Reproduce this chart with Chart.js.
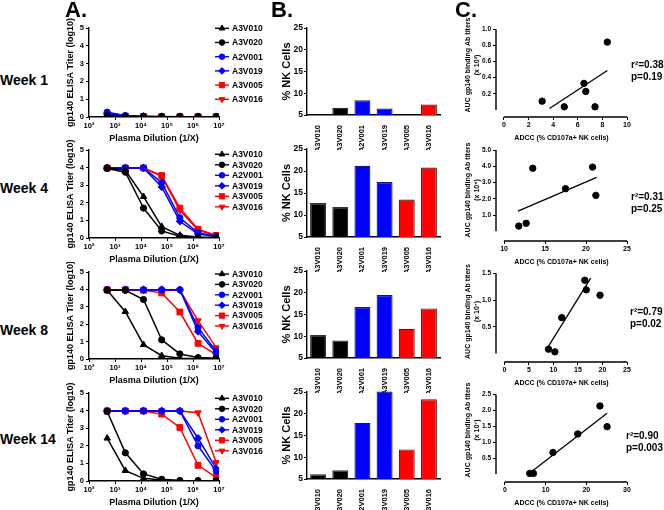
<!DOCTYPE html>
<html>
<head>
<meta charset="utf-8">
<script src="https://cdn.jsdelivr.net/npm/chart.js@4/dist/chart.umd.min.js"></script>
<style>
  body { margin: 0; width: 664px; height: 510px; position: relative; overflow: hidden; background: #fff;
         font-family: "Liberation Sans", Arial, Helvetica, sans-serif; font-weight: bold; color: #000; }
  canvas { position: absolute; }
  .t { position: absolute; white-space: nowrap; line-height: 1; z-index: 2; }
  .r { font-size: 10px; line-height: 11.5px; }
</style>
</head>
<body>
<div class="t" style="left:65px;top:-1px;font-size:22px">A.</div>
<div class="t" style="left:271px;top:-1px;font-size:22px">B.</div>
<div class="t" style="left:455px;top:-1px;font-size:22px">C.</div>

<div class="t" style="left:0;top:73px;font-size:14px">Week 1</div>
<div class="t" style="left:0;top:181px;font-size:14px">Week 4</div>
<div class="t" style="left:0;top:323px;font-size:14px">Week 8</div>
<div class="t" style="left:0;top:432px;font-size:14px">Week 14</div>

<div class="t r" style="left:631px;top:59px">r²=0.38<br>p=0.19</div>
<div class="t r" style="left:631px;top:191px">r²=0.31<br>p=0.25</div>
<div class="t r" style="left:630px;top:306px">r²=0.79<br>p=0.02</div>
<div class="t r" style="left:626px;top:430px">r²=0.90<br>p=0.003</div>

<script>
const animals = ["A3V010", "A3V020", "A2V001", "A3V019", "A3V005", "A3V016"];
const dilutions = [500, 2500, 12500, 62500, 312500, 1562500, 7812500];
const dilutionTicks = [1e2, 1e3, 1e4, 1e5, 1e6, 1e7];
const titerTicks = [0, 1, 2, 3, 4, 5];
const nkTicks = [5, 10, 15, 20, 25];

// gp140 ELISA titer (log10), one row per animal, same order as animals
const titersWeek1 = [
    [0.10, 0.04, 0.03, 0.02, 0.02, 0.02, 0.02],
    [0.06, 0.03, 0.02, 0.02, 0.02, 0.02, 0.02],
    [0.27, 0.08, 0.04, 0.03, 0.02, 0.02, 0.02],
    [0.20, 0.06, 0.03, 0.02, 0.02, 0.02, 0.02],
    [0.08, 0.04, 0.03, 0.02, 0.02, 0.02, 0.02],
    [0.07, 0.04, 0.02, 0.02, 0.02, 0.02, 0.02]
];
const titersWeek4 = [
    [3.98, 3.85, 2.35, 0.65, 0.15, 0.05, 0.04],
    [3.95, 3.74, 1.70, 0.40, 0.10, 0.03, 0.02],
    [3.98, 3.98, 3.98, 3.15, 1.15, 0.30, 0.10],
    [3.98, 3.98, 3.98, 2.90, 0.95, 0.22, 0.08],
    [3.98, 3.98, 3.98, 3.55, 1.70, 0.50, 0.15],
    [3.98, 3.98, 3.98, 3.50, 1.58, 0.45, 0.12]
];
const titersWeek8 = [
    [3.95, 2.72, 0.82, 0.19, 0.05, 0.03, 0.02],
    [3.95, 3.95, 3.42, 1.10, 0.29, 0.08, 0.05],
    [3.98, 3.98, 3.98, 3.98, 3.98, 1.80, 0.45],
    [3.98, 3.98, 3.98, 3.98, 3.98, 1.58, 0.35],
    [3.98, 3.98, 3.95, 3.80, 2.70, 0.90, 0.25],
    [3.98, 3.98, 3.98, 3.95, 3.95, 2.20, 0.65]
];
const titersWeek14 = [
    [2.43, 0.59, 0.15, 0.05, 0.02, 0.02, 0.02],
    [3.95, 1.60, 0.40, 0.10, 0.03, 0.02, 0.02],
    [3.98, 3.98, 3.98, 3.98, 3.98, 2.00, 0.55],
    [3.98, 3.98, 3.98, 3.98, 3.98, 2.43, 0.70],
    [3.98, 3.98, 3.98, 3.80, 3.04, 0.89, 0.20],
    [3.98, 3.98, 3.98, 3.98, 3.98, 3.88, 1.05]
];

// % NK cells (ADCC, % CD107a+ NK cells), per animal
const nkWeek1 = [3.1, 6.65, 8.4, 6.5, 4.9, 7.4];
const nkWeek4 = [12.7, 11.8, 21.2, 17.5, 13.5, 20.8];
const nkWeek8 = [10.3, 9.0, 16.7, 19.5, 11.7, 16.4];
const nkWeek14 = [6.1, 7.0, 17.9, 25.1, 11.8, 23.35];

// AUC gp140 binding Ab titers, per animal
const aucWeek1 = [0.11, 0.23, 0.84, 0.33, 0.04, 0.04];
const aucWeek4 = [0.49, 0.32, 2.21, 2.62, 3.88, 3.95];
const aucWeek8 = [0.03, 0.08, 1.19, 1.09, 0.67, 1.37];
const aucWeek14 = [0.02, 0.02, 1.26, 1.49, 0.68, 2.14];

// regression line ends as drawn
const fitXWeek1 = [3.7, 8.4],   fitYWeek1 = [0.02, 0.49];
const fitXWeek4 = [11.7, 21.3], fitYWeek4 = [1.24, 3.32];
const fitXWeek8 = [8.7, 17.6],  fitYWeek8 = [0.09, 1.41];
const fitXWeek14 = [6.1, 25.1], fitYWeek14 = [0.03, 1.91];

const adccTicksWeek1 = [0, 2, 4, 6, 8, 10];
const adccTicksWeek4 = [10, 15, 20, 25];
const adccTicksWeek8 = [0, 5, 10, 15, 20, 25];
const adccTicksWeek14 = [0, 10, 20, 30];
const aucTicksWeek1 = [0.2, 0.4, 0.6, 0.8, 1.0];
const aucTicksWeek4 = [1, 2, 3, 4, 5];
const aucTicksWeek8 = [0.5, 1.0, 1.5];
const aucTicksWeek14 = [0.5, 1.0, 1.5, 2.0, 2.5];

const FONT = '"Liberation Sans", Arial, Helvetica, sans-serif';
const lineColors = ["#000000", "#000000", "#0000ff", "#0000ff", "#ff0000", "#ff0000"];
const pointStyles = ["triangle", "circle", "circle", "rectRot", "rect", "triangle"];
const pointRotations = [0, 0, 0, 0, 0, 180];
const pointSizes = [3.7, 3.1, 3.1, 3.7, 4.1, 3.7];
const barBorders = ["#333333", "#333333", "#1a1a55", "#1a1a55", "#551a1a", "#551a1a"];
const supers = { 2: "²", 3: "³", 4: "⁴", 5: "⁵", 6: "⁶", 7: "⁷" };

Chart.defaults.font.family = FONT;
Chart.defaults.font.weight = "bold";
Chart.defaults.color = "#000";
Chart.defaults.animation = false;
Chart.defaults.responsive = false;
Chart.defaults.devicePixelRatio = 1;
Chart.defaults.plugins.legend.display = false;
Chart.defaults.plugins.tooltip.enabled = false;

function makeCanvas(left, top, width, height) {
    const c = document.createElement("canvas");
    c.width = width;
    c.height = height;
    c.style.left = left + "px";
    c.style.top = top + "px";
    document.body.appendChild(c);
    return c;
}

// legend drawn beside the plot: line + marker + name
const sideLegend = {
    id: "sideLegend",
    afterDraw(chart, args, opts) {
        if (!opts.show) return;
        const ctx = chart.ctx;
        const x = chart.chartArea.right + 3;
        ctx.save();
        ctx.font = "bold 8.5px " + FONT;
        ctx.textBaseline = "middle";
        chart.data.datasets.forEach((ds, i) => {
            const y = opts.first + i * opts.gap - opts.canvasTop;
            ctx.strokeStyle = ds.borderColor;
            ctx.fillStyle = ds.backgroundColor;
            ctx.lineWidth = 1.4;
            ctx.beginPath();
            ctx.moveTo(x - 7, y);
            ctx.lineTo(x + 7, y);
            ctx.stroke();
            ctx.lineWidth = 1;
            Chart.helpers.drawPoint(ctx, {
                pointStyle: ds.pointStyle, radius: ds.pointRadius * 0.9,
                rotation: ds.pointRotation, borderWidth: 1
            }, x, y);
            ctx.fillStyle = "#000";
            ctx.fillText(ds.label, x + 10, y + 0.5);
        });
        ctx.restore();
    }
};

// Prism-like detached axes for the correlation plots
const prismAxes = {
    id: "prismAxes",
    beforeDatasetsDraw(chart, args, opts) {
        if (!opts.show) return;
        const { ctx, chartArea, scales } = chart;
        ctx.save();
        ctx.strokeStyle = "#000";
        ctx.lineWidth = 1.4;
        ctx.beginPath();
        ctx.moveTo(chartArea.left, scales.y.getPixelForValue(opts.yTo));
        ctx.lineTo(chartArea.left, scales.y.getPixelForValue(opts.yFrom));
        ctx.moveTo(scales.x.getPixelForValue(opts.xFrom), chartArea.bottom);
        ctx.lineTo(scales.x.getPixelForValue(opts.xTo), chartArea.bottom);
        ctx.stroke();
        ctx.restore();
    }
};

Chart.register(sideLegend, prismAxes);

function tickGrid(len) {
    return { drawOnChartArea: false, drawTicks: true, tickLength: len, color: "#000", lineWidth: 1 };
}

function renderTiterChart(titers, plotTop, plotBottom, legendFirst, legendGap) {
    const left = 60, width = 215, axisLeft = 89, axisRight = 219;
    const top = plotTop - 10;
    const height = plotBottom + 27 - top;
    const canvas = makeCanvas(left, top, width, height);

    new Chart(canvas, {
        type: "line",
        data: {
            labels: dilutions,
            datasets: titers.map((row, i) => ({
                label: animals[i],
                data: row.map((v, j) => ({ x: dilutions[j], y: v })),
                borderColor: lineColors[i],
                backgroundColor: lineColors[i],
                borderWidth: 1.5,
                pointStyle: pointStyles[i],
                pointRotation: pointRotations[i],
                pointRadius: pointSizes[i],
                pointBorderWidth: 1
            }))
        },
        options: {
            layout: { padding: { left: 0, top: 10, right: width - (axisRight - left), bottom: 0 } },
            scales: {
                x: {
                    type: "logarithmic", min: 100, max: 1e7,
                    afterBuildTicks: s => { s.ticks = dilutionTicks.map(v => ({ value: v })); },
                    afterFit: s => { s.height = 27; s.paddingLeft = 0; s.paddingRight = 0; },
                    ticks: {
                        autoSkip: false, maxRotation: 0, padding: 1,
                        font: { size: 7.5 },
                        callback: v => "10" + supers[Math.round(Math.log10(v))]
                    },
                    grid: tickGrid(3),
                    border: { color: "#000", width: 1.4 },
                    title: { display: true, text: "Plasma Dilution (1/X)", font: { size: 9 }, padding: 0 }
                },
                y: {
                    min: 0, max: 5,
                    afterBuildTicks: s => { s.ticks = titerTicks.map(v => ({ value: v })); },
                    afterFit: s => { s.width = axisLeft - left; s.paddingTop = 0; s.paddingBottom = 0; },
                    ticks: { padding: 2, font: { size: 7.5 } },
                    grid: tickGrid(3),
                    border: { color: "#000", width: 1.4 },
                    title: { display: true, text: "gp140 ELISA Titer (log10)", font: { size: 9 }, padding: { top: 5.6, bottom: 0 } }
                }
            },
            plugins: { sideLegend: { show: true, first: legendFirst, gap: legendGap, canvasTop: top } }
        }
    });
}

function renderNKChart(values, plotTop, plotBottom) {
    const left = 276, width = 172, axisLeft = 307, axisRight = 440;
    const top = plotTop - 10;
    const height = plotBottom + 45 - top;
    const canvas = makeCanvas(left, top, width, height);

    new Chart(canvas, {
        type: "bar",
        data: {
            labels: animals,
            datasets: [{
                data: values,
                backgroundColor: lineColors,
                borderColor: barBorders,
                borderWidth: 1.2,
                barPercentage: 0.72,
                categoryPercentage: 1,
                clip: { left: 5, top: 5, right: 5, bottom: 0 }
            }]
        },
        options: {
            layout: { padding: { left: 0, top: 10, right: width - (axisRight - left), bottom: 10 } },
            scales: {
                x: {
                    afterFit: s => { s.height = 35; s.paddingLeft = 0; s.paddingRight = 0; },
                    ticks: { autoSkip: false, minRotation: 90, maxRotation: 90, padding: 2, font: { size: 7.5 } },
                    grid: { display: false },
                    border: { color: "#000", width: 1.4 }
                },
                y: {
                    min: 5, max: 25,
                    afterBuildTicks: s => { s.ticks = nkTicks.map(v => ({ value: v })); },
                    afterFit: s => { s.width = axisLeft - left; s.paddingTop = 0; s.paddingBottom = 0; },
                    ticks: { padding: 1, font: { size: 8.5 } },
                    grid: tickGrid(3),
                    border: { color: "#000", width: 1.4 },
                    title: { display: true, text: "% NK Cells", font: { size: 11 }, padding: { top: 4.4, bottom: 0 } }
                }
            }
        }
    });
}

function renderCorrChart(nk, auc, fitX, fitY, xTicks, yTicks, box) {
    const left = 460, width = 177, axisLeft = 496, axisRight = 627;
    const top = box.top - 8;
    const height = box.bottom + 25 - top;
    const canvas = makeCanvas(left, top, width, height);

    new Chart(canvas, {
        type: "scatter",
        data: {
            datasets: [{
                data: nk.map((x, i) => ({ x: x, y: auc[i] })),
                backgroundColor: "#000",
                borderColor: "#000",
                pointRadius: 3.2,
                showLine: false
            }, {
                data: fitX.map((x, i) => ({ x: x, y: fitY[i] })),
                borderColor: "#000",
                borderWidth: 1.3,
                pointRadius: 0,
                showLine: true
            }]
        },
        options: {
            layout: { padding: { left: 0, top: 8, right: width - (axisRight - left), bottom: 0 } },
            scales: {
                x: {
                    min: box.xMin, max: box.xMax,
                    afterBuildTicks: s => { s.ticks = xTicks.map(v => ({ value: v })); },
                    afterFit: s => { s.height = 25; s.paddingLeft = 0; s.paddingRight = 0; },
                    ticks: { padding: 1, font: { size: 7 } },
                    grid: tickGrid(3),
                    border: { display: false },
                    title: { display: true, text: "ADCC (% CD107a+ NK cells)", font: { size: 7 }, padding: 0 }
                },
                y: {
                    min: box.yMin, max: box.yMax,
                    afterBuildTicks: s => { s.ticks = yTicks.map(v => ({ value: v })); },
                    afterFit: s => { s.width = axisLeft - left; s.paddingTop = 0; s.paddingBottom = 0; },
                    ticks: { padding: 2, font: { size: 6.5 }, callback: v => v.toFixed(1) },
                    grid: tickGrid(3),
                    border: { display: false },
                    title: {
                        display: true,
                        text: ["AUC gp140 binding Ab titers", "(x 10" + box.power + ")"],
                        font: { size: 7 }, padding: { top: 4, bottom: 0 }
                    }
                }
            },
            plugins: {
                prismAxes: { show: true, xFrom: xTicks[0], xTo: xTicks[xTicks.length - 1], yFrom: 0, yTo: yTicks[yTicks.length - 1] }
            }
        }
    });
}

renderTiterChart(titersWeek1, 28, 117, 28.3, 14.2);
renderTiterChart(titersWeek4, 150, 238, 154.3, 10.5);
renderTiterChart(titersWeek8, 272, 359, 274, 10.4);
renderTiterChart(titersWeek14, 393, 481, 398.3, 10.5);

renderNKChart(nkWeek1, 28, 115);
renderNKChart(nkWeek4, 149, 237);
renderNKChart(nkWeek8, 271, 358);
renderNKChart(nkWeek14, 392, 479);

renderCorrChart(nkWeek1, aucWeek1, fitXWeek1, fitYWeek1, adccTicksWeek1, aucTicksWeek1,
    { top: 13, bottom: 117, xMin: -0.65, xMax: 10, yMin: -0.086, yMax: 1.2, power: "³" });
renderCorrChart(nkWeek4, aucWeek4, fitXWeek4, fitYWeek4, adccTicksWeek4, aucTicksWeek4,
    { top: 139, bottom: 241, xMin: 9.02, xMax: 25, yMin: -0.6, yMax: 5.68, power: "⁵" });
renderCorrChart(nkWeek8, aucWeek8, fitXWeek8, fitYWeek8, adccTicksWeek8, aucTicksWeek8,
    { top: 261, bottom: 362, xMin: -1.7, xMax: 25, yMin: -0.16, yMax: 1.73, power: "⁷" });
renderCorrChart(nkWeek14, aucWeek14, fitXWeek14, fitYWeek14, adccTicksWeek14, aucTicksWeek14,
    { top: 378, bottom: 482, xMin: -2.2, xMax: 30, yMin: -0.25, yMax: 3.02, power: "⁷" });
</script>
</body>
</html>
